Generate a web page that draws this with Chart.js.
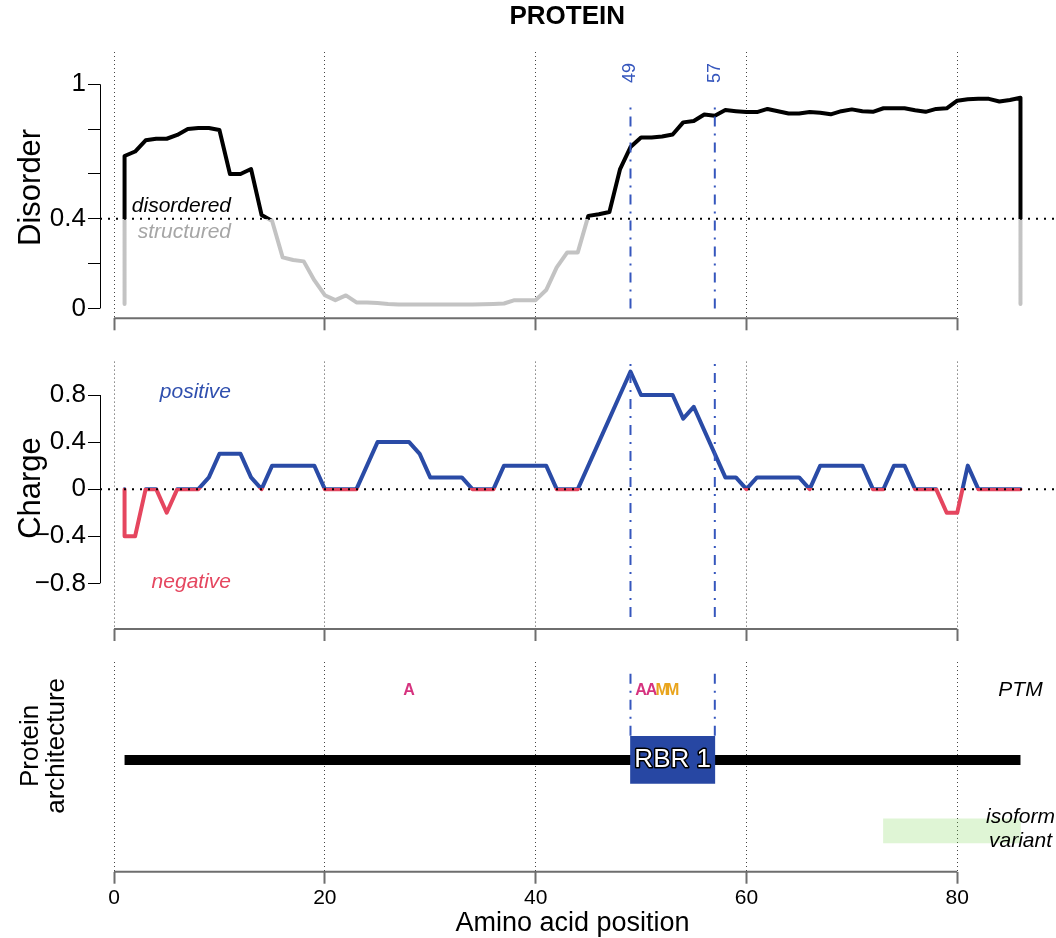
<!DOCTYPE html>
<html>
<head>
<meta charset="utf-8">
<title>PROTEIN</title>
<script src="https://cdn.jsdelivr.net/npm/chart.js@4.4.1/dist/chart.umd.min.js"></script>
<style>
  html, body { margin: 0; padding: 0; background: #fff; }
  #wrap { position: relative; width: 1056px; height: 938px; overflow: hidden; }
  #wrap canvas { position: absolute; left: 0; }
</style>
</head>
<body>
<div id="wrap">
  <canvas id="disorderChart" width="1056" height="340" style="top:0"></canvas>
  <canvas id="chargeChart" width="1056" height="305" style="top:340px"></canvas>
  <canvas id="archChart" width="1056" height="293" style="top:645px"></canvas>
</div>
<script>
// ============================================================
// Protein overview: disorder, net charge and architecture
// three stacked panels sharing the residue axis
// ============================================================

/* ── Data ──────────────────────────────────────────────────*/
const proteinLength = 86;
const xTicks = [0, 20, 40, 60, 80];

const disorderTicks = [0, 0.2, 0.4, 0.6, 0.8, 1];
const disorderTickLabels = ["0", "", "0.4", "", "", "1"];
const disorderCutoff = 0.4;
const disorderFloor = 0.02;   // trace is closed down to this level at both ends

// disorder score per residue, 1..86
const disorder = [
  0.68, 0.70, 0.75, 0.757, 0.757, 0.774, 0.80, 0.805, 0.805, 0.796,
  0.60, 0.60, 0.622, 0.417, 0.39, 0.228, 0.216, 0.21, 0.126, 0.059,
  0.037, 0.058, 0.027, 0.027, 0.024, 0.02, 0.018, 0.018, 0.018, 0.018,
  0.018, 0.018, 0.018, 0.018, 0.019, 0.02, 0.022, 0.037, 0.037, 0.037,
  0.082, 0.183, 0.25, 0.25, 0.413, 0.42, 0.43, 0.62, 0.72, 0.763,
  0.763, 0.767, 0.776, 0.83, 0.836, 0.865, 0.86, 0.885, 0.88, 0.876,
  0.876, 0.89, 0.88, 0.87, 0.87, 0.876, 0.873, 0.866, 0.88, 0.888,
  0.88, 0.877, 0.893, 0.893, 0.893, 0.884, 0.877, 0.89, 0.893, 0.927,
  0.933, 0.935, 0.935, 0.923, 0.93, 0.94
];

const chargeTicks = [-0.8, -0.4, 0, 0.4, 0.8];
const chargeTickLabels = ["\u22120.8", "\u22120.4", "0", "0.4", "0.8"];

// net charge per residue, 1..86
const charge = [
  -0.4, -0.4, 0, 0, -0.2, 0, 0, 0, 0.1, 0.3,
  0.3, 0.3, 0.1, 0, 0.2, 0.2, 0.2, 0.2, 0.2, 0,
  0, 0, 0, 0.2, 0.4, 0.4, 0.4, 0.4, 0.3, 0.1,
  0.1, 0.1, 0.1, 0, 0, 0, 0.2, 0.2, 0.2, 0.2,
  0.2, 0, 0, 0, 0.2, 0.4, 0.6, 0.8, 1.0, 0.8,
  0.8, 0.8, 0.8, 0.6, 0.7, 0.5, 0.3, 0.1, 0.1, 0,
  0.1, 0.1, 0.1, 0.1, 0.1, 0, 0.2, 0.2, 0.2, 0.2,
  0.2, 0, 0, 0.2, 0.2, 0, 0, 0, -0.2, -0.2,
  0.2, 0, 0, 0, 0, 0
];

const domainName = ["RBR 1"];
const domainStart = [49];
const domainEnd = [57];

const ptmPos = [28, 50, 51, 52, 53];
const ptmType = ["A", "A", "A", "M", "M"];
const ptmColors = { A: "#d6337f", M: "#e9a41c" };

const isoformStart = [73];
const isoformEnd = [86];

/* ── Shared look ───────────────────────────────────────────*/
const FONT = "'Liberation Sans', Arial, Helvetica, sans-serif";
const X_MIN = -1.33, X_MAX = 89.37;
const AXIS_W = 100;
const BLUE = "#2a4ba6", RED = "#e5465f", DOMAIN_BLUE = "#3556bd";

// rows inside the architecture panel (y runs 0..1)
const ptmY = 0.866, backboneY = 0.533, isoformY = 0.195;

function xAxis(height, showLabels) {
  return {
    type: "linear", min: X_MIN, max: X_MAX, offset: false,
    afterBuildTicks: s => { s.ticks = xTicks.map(v => ({ value: v })); },
    afterFit: s => { s.height = height; s.paddingLeft = 0; s.paddingRight = 0; },
    ticks: { display: showLabels, autoSkip: false, maxRotation: 0, padding: 2, color: "#000",
             font: { family: FONT, size: 21 } },
    grid: { color: "#444", lineWidth: 1, drawTicks: true, tickLength: 12, offset: false,
            tickColor: "#6e6e6e", tickWidth: 2, tickBorderDash: [] },
    border: { display: false, dash: [1, 3] }
  };
}

function yAxis(min, max, ticks, labels) {
  return {
    type: "linear", min, max, offset: false,
    afterBuildTicks: s => { s.ticks = ticks.map(v => ({ value: v })); },
    afterFit: s => { s.width = AXIS_W; s.paddingTop = 0; s.paddingBottom = 0; },
    ticks: { autoSkip: false, padding: 2, color: "#000", font: { family: FONT, size: 26 },
             callback: (v, i) => labels[i] },
    grid: { drawOnChartArea: false, drawTicks: true, tickLength: 12, tickColor: "#000", tickWidth: 1 },
    border: { display: false }
  };
}

// line colour that switches at a value (hard gradient stop)
function splitColor(value, above, below, shift) {
  return c => {
    const chart = c.chart, area = chart.chartArea;
    if (!area) return above;
    const py = chart.scales.y.getPixelForValue(value) + (shift || 0);
    const stop = Math.min(1, Math.max(0, (py - area.top) / (area.bottom - area.top)));
    const g = chart.ctx.createLinearGradient(0, area.top, 0, area.bottom);
    g.addColorStop(0, above); g.addColorStop(stop, above);
    g.addColorStop(stop, below); g.addColorStop(1, below);
    return g;
  };
}

function domainLines(y0, y1) {
  const bounds = domainStart.concat(domainEnd);
  return bounds.map(b => ({
    type: "line", data: [{ x: b, y: y0 }, { x: b, y: y1 }],
    borderColor: DOMAIN_BLUE, borderWidth: 2, borderDash: [10, 7, 2, 7],
    borderCapStyle: "butt", pointRadius: 0, order: 0
  }));
}

/* ── Plugin: reference lines, R-style axis lines, text ─────*/
const rDecor = {
  id: "rDecor",
  afterDatasetsDraw(chart, args, opts) {
    const { ctx, chartArea: a, scales: { x, y } } = chart;
    ctx.save();

    (opts.hlines || []).forEach(h => {
      const py = y.getPixelForValue(h.value);
      ctx.beginPath();
      ctx.setLineDash(h.dash);
      ctx.lineWidth = h.width;
      ctx.strokeStyle = h.color;
      ctx.moveTo(a.left, py);
      ctx.lineTo(a.right, py);
      ctx.stroke();
    });
    ctx.setLineDash([]);

    // axis lines only span the outer ticks
    ctx.beginPath();
    ctx.strokeStyle = "#6e6e6e"; ctx.lineWidth = 2;
    ctx.moveTo(x.getPixelForValue(xTicks[0]), a.bottom);
    ctx.lineTo(x.getPixelForValue(xTicks[xTicks.length - 1]), a.bottom);
    ctx.stroke();
    if (opts.yTicks) {
      ctx.beginPath();
      ctx.strokeStyle = "#000"; ctx.lineWidth = 1;
      ctx.moveTo(a.left + 0.5, y.getPixelForValue(opts.yTicks[0]));
      ctx.lineTo(a.left + 0.5, y.getPixelForValue(opts.yTicks[opts.yTicks.length - 1]));
      ctx.stroke();
    }

    (opts.labels || []).forEach(t => {
      ctx.save();
      const px = t.dx !== undefined ? a.left + t.dx : x.getPixelForValue(t.x);
      ctx.translate(px, y.getPixelForValue(t.y));
      if (t.rotate) ctx.rotate(t.rotate);
      ctx.font = t.font;
      ctx.textAlign = t.align || "center";
      ctx.textBaseline = "middle";
      [].concat(t.text).forEach((line, i) => {
        const ly = i * (t.lineHeight || 0);
        if (t.stroke) {
          ctx.lineWidth = t.strokeWidth; ctx.strokeStyle = t.stroke; ctx.lineJoin = "round";
          ctx.strokeText(line, 0, ly);
        }
        ctx.fillStyle = t.color;
        ctx.fillText(line, 0, ly);
      });
      ctx.restore();
    });
    ctx.restore();
  }
};

const baseOptions = (padTop, scales, decor) => ({
  responsive: false, animation: false, devicePixelRatio: 1, events: [],
  layout: { padding: { top: padTop, left: 0, right: 0, bottom: 0 } },
  scales,
  plugins: { legend: { display: false }, tooltip: { enabled: false }, title: { display: false }, rDecor: decor }
});

const yTitleFont = "31px " + FONT;
const noteFont = "italic 21px " + FONT;

/* ── Panel 1: disorder ─────────────────────────────────────*/
const disorderPoints = [{ x: 1, y: disorderFloor }]
  .concat(disorder.map((v, i) => ({ x: i + 1, y: v })))
  .concat([{ x: proteinLength, y: disorderFloor }]);

new Chart(document.getElementById("disorderChart"), {
  type: "line",
  plugins: [rDecor],
  data: {
    datasets: [
      ...domainLines(0, 0.917),
      {
        data: disorderPoints, borderWidth: 4, pointRadius: 0, tension: 0,
        borderColor: splitColor(disorderCutoff, "#000", "#c3c3c3"),
        borderJoinStyle: "round", borderCapStyle: "round", order: 1
      }
    ]
  },
  options: baseOptions(52, {
    x: xAxis(21.7, false),
    y: yAxis(-0.044, 1.144, disorderTicks, disorderTickLabels)
  }, {
    yTicks: disorderTicks,
    hlines: [{ value: disorderCutoff, color: "#000", width: 2, dash: [2, 6] }],
    labels: [
      { text: "PROTEIN", x: proteinLength / 2, y: 1.30, font: "bold 26px " + FONT, color: "#000" },
      { text: "Disorder", dx: -69, y: 0.54, rotate: -Math.PI / 2, font: yTitleFont, color: "#000" },
      { text: "disordered", x: 11.1, y: 0.457, align: "right", font: noteFont, color: "#000" },
      { text: "structured", x: 11.1, y: 0.34, align: "right", font: noteFont, color: "#a6a6a6" },
      ...domainStart.concat(domainEnd).map(b => ({
        text: String(b), x: b, y: 1.05, rotate: -Math.PI / 2, font: "18px " + FONT, color: DOMAIN_BLUE
      }))
    ]
  })
});

/* ── Panel 2: charge ───────────────────────────────────────*/
const chargePoints = [{ x: 1, y: 0 }].concat(charge.map((v, i) => ({ x: i + 1, y: v })));

new Chart(document.getElementById("chargeChart"), {
  type: "line",
  plugins: [rDecor],
  data: {
    datasets: [
      ...domainLines(-1.086, 1.084),
      {
        data: chargePoints, borderWidth: 4, pointRadius: 0, tension: 0,
        borderColor: splitColor(0, BLUE, RED, -1),
        borderJoinStyle: "round", borderCapStyle: "round", order: 1
      }
    ]
  },
  options: baseOptions(21.6, {
    x: xAxis(16, false),
    y: yAxis(-1.188, 1.084, chargeTicks, chargeTickLabels)
  }, {
    yTicks: chargeTicks,
    hlines: [{ value: 0, color: "#000", width: 2, dash: [2, 6] }],
    labels: [
      { text: "Charge", dx: -69, y: 0.01, rotate: -Math.PI / 2, font: yTitleFont, color: "#000" },
      { text: "positive", x: 11.1, y: 0.826, align: "right", font: noteFont, color: "#2f4fae" },
      { text: "negative", x: 11.1, y: -0.786, align: "right", font: noteFont, color: RED }
    ]
  })
});

/* ── Panel 3: architecture ─────────────────────────────────*/
new Chart(document.getElementById("archChart"), {
  type: "line",
  plugins: [rDecor],
  data: {
    datasets: [
      ...domainLines(0.648, 0.976),
      {
        type: "bar", indexAxis: "y", grouped: false, barThickness: 47, borderWidth: 0,
        data: domainStart.map((s, i) => ({ x: [s, domainEnd[i]], y: backboneY })),
        backgroundColor: "#2747a3", order: 1
      },
      {
        data: [{ x: 1, y: backboneY }, { x: proteinLength, y: backboneY }],
        borderColor: "#000", borderWidth: 10, borderCapStyle: "butt", pointRadius: 0, order: 2
      },
      {
        type: "bar", indexAxis: "y", grouped: false, barThickness: 24, borderWidth: 0,
        data: isoformStart.map((s, i) => ({ x: [s, isoformEnd[i]], y: isoformY })),
        backgroundColor: "rgba(120,215,80,0.24)", order: 3
      }
    ]
  },
  options: baseOptions(17, {
    x: xAxis(66.3, true),
    y: {
      type: "linear", min: 0, max: 1, offset: false,
      afterFit: s => { s.width = AXIS_W; s.paddingTop = 0; s.paddingBottom = 0; },
      ticks: { display: false }, grid: { display: false, offset: false }, border: { display: false }
    }
  }, {
    labels: [
      { text: ["Protein", "architecture"], dx: -69, y: 0.60, rotate: -Math.PI / 2,
        lineHeight: 25.5, font: "26px " + FONT, color: "#000" },
      { text: "Amino acid position", x: 43.5, y: -0.245, font: "27px " + FONT, color: "#000" },
      ...ptmPos.map((p, i) => ({
        text: ptmType[i], x: p, y: ptmY, font: "bold 16px " + FONT, color: ptmColors[ptmType[i]]
      })),
      { text: "PTM", x: proteinLength, y: ptmY, font: "italic 21px " + FONT, color: "#000" },
      { text: ["isoform", "variant"], x: proteinLength, y: 0.261, lineHeight: 24,
        font: "italic 21px " + FONT, color: "#000" },
      ...domainName.map((n, i) => ({
        text: n, x: (domainStart[i] + domainEnd[i]) / 2, y: backboneY, font: "26px " + FONT,
        color: "#fff", stroke: "#000", strokeWidth: 3
      }))
    ]
  })
});
</script>
</body>
</html>
